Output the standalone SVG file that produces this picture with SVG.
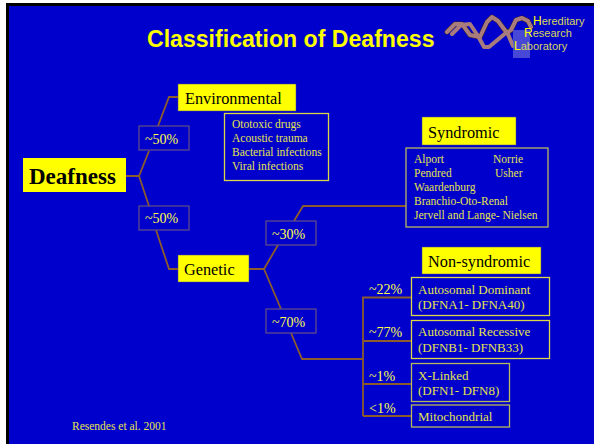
<svg xmlns="http://www.w3.org/2000/svg" width="594" height="444" viewBox="0 0 594 444">
<style>
text{font-family:"Liberation Serif","Times New Roman",serif}
.y{fill:#ffff00;stroke:#4a4a90;stroke-width:.5}
.p{fill:none;stroke:#5c4a8c;stroke-width:1.3}
.l{fill:none;stroke:#d8d84a;stroke-width:1.3}
.lt{fill:#ffff4d;font-size:14px}
.k{fill:#000;font-size:16.300px}
.s{fill:#e4e44c;font-size:11.500px}
.m{fill:#e4e44c;font-size:13px}
.c{fill:none;stroke:#8c5c2c;stroke-width:1.800}
.h{font-family:"Liberation Sans",Arial,sans-serif;font-size:11px;fill:#d8d85a}
.h tspan{fill:#ffff00;font-size:12px}
</style>
<rect width="594" height="444" fill="#fff"/>
<rect x="6" y="3" width="588" height="441" fill="#000"/>
<rect x="9" y="6" width="585" height="438" fill="#0000cc"/>
<g id="title"><text x="147" y="47" font-size="23.100" font-weight="bold" fill="#ffff00" style="font-family:'Liberation Sans',Arial,sans-serif">Classification of Deafness</text></g>
<g id="logo">
<g fill="none" stroke-linejoin="round" stroke-linecap="round">
<path d="M447 32 L455 24 L462 24 L470 35 L480 37 L487 22 L492 17 L498 21 L507 33 L511 30 L516 20 L522 18 L528 21 L531 27" stroke="#3a2020" stroke-width="5"/>
<path d="M447 32 L455 24 L462 24 L470 35 L480 37 L487 22 L492 17 L498 21 L507 33 L511 30 L516 20 L522 18 L528 21 L531 27" stroke="#a87c7c" stroke-width="4"/>
<path d="M452 34 L461 25 L470 24 L478 36 L484 47 L489 47 L507 32 L513 46" stroke="#a87c7c" stroke-width="4"/>
</g>
<rect x="513" y="30" width="17" height="28" fill="#5a5ad8" fill-opacity=".8"/>
<text class="h" x="533" y="25"><tspan>H</tspan>ereditary</text>
<text class="h" x="524" y="37"><tspan>R</tspan>esearch</text>
<text class="h" x="514" y="50"><tspan>L</tspan>aboratory</text>
</g>
<g id="connectors">
<path class="c" d="M126 176H139L149 151M158 126L169 97H178M139 176L149 206M156 230L169 269H178"/>
<path class="c" d="M249 269H264L278 245M294 221L303 206H406M264 269L281 309M291 333L302 359H363"/>
<path class="c" d="M363 416V297.500H411M363 341H411M363 384H411M363 416H411"/>
</g>
<g id="deafness"><rect x="23" y="158" width="103" height="34" fill="#ffff00"/><text x="29" y="184" font-size="23" font-weight="bold" fill="#000">Deafness</text></g>
<g id="environmental"><rect class="y" x="178" y="84" width="118" height="27"/><text class="k" x="185" y="104">Environmental</text></g>
<g id="env-list"><rect class="l" x="224.500" y="113.500" width="104" height="67"/><text class="s" x="232" y="128">Ototoxic drugs</text><text class="s" x="232" y="142">Acoustic trauma</text><text class="s" x="232" y="156">Bacterial infections</text><text class="s" x="232" y="170">Viral infections</text></g>
<g id="pct-env"><rect class="p" x="139" y="126" width="50" height="24"/><text class="lt" x="145" y="144">~50%</text></g>
<g id="pct-gen"><rect class="p" x="139" y="206" width="50" height="24"/><text class="lt" x="145" y="223">~50%</text></g>
<g id="genetic"><rect class="y" x="178" y="255" width="71" height="27"/><text class="k" x="184" y="275">Genetic</text></g>
<g id="pct-syn"><rect class="p" x="266" y="221" width="50" height="24"/><text class="lt" x="272" y="239">~30%</text></g>
<g id="pct-non"><rect class="p" x="266" y="309" width="50" height="24"/><text class="lt" x="272" y="327">~70%</text></g>
<g id="syndromic"><rect class="y" x="422" y="117" width="94" height="28"/><text class="k" x="428" y="138">Syndromic</text></g>
<g id="syn-list"><rect class="l" x="406" y="148" width="142" height="79" style="stroke:#b8b85c"/><text class="s" x="414" y="163">Alport</text><text class="s" x="493" y="163">Norrie</text><text class="s" x="414" y="177">Pendred</text><text class="s" x="495" y="177">Usher</text><text class="s" x="414" y="191">Waardenburg</text><text class="s" x="414" y="205">Branchio-Oto-Renal</text><text class="s" x="414" y="219">Jervell and Lange- Nielsen</text></g>
<g id="nonsyndromic"><rect class="y" x="422" y="247" width="119" height="27"/><text class="k" x="428" y="267">Non-syndromic</text></g>
<g id="ad"><rect class="l" x="411.500" y="277.500" width="138" height="38"/><text class="m" x="418" y="294">Autosomal Dominant</text><text class="m" x="418" y="309">(DFNA1- DFNA40)</text></g>
<g id="ar"><rect class="l" x="411.500" y="320.500" width="138" height="38"/><text class="m" x="418" y="336">Autosomal Recessive</text><text class="m" x="418" y="352">(DFNB1- DFNB33)</text></g>
<g id="xl"><rect class="l" x="411.500" y="363.500" width="98" height="38" style="stroke:#b8b85c"/><text class="m" x="418" y="380">X-Linked</text><text class="m" x="418" y="395">(DFN1- DFN8)</text></g>
<g id="mito"><rect class="l" x="411.500" y="405" width="98" height="22" style="stroke:#b8b85c"/><text class="m" x="418" y="421">Mitochondrial</text></g>
<g id="labels"><text class="lt" x="369" y="294">~22%</text><text class="lt" x="369" y="337">~77%</text><text class="lt" x="369" y="381">~1%</text><text class="lt" x="369" y="413">&lt;1%</text>
<text class="s" x="72" y="430">Resendes et al. 2001</text></g>
</svg>
